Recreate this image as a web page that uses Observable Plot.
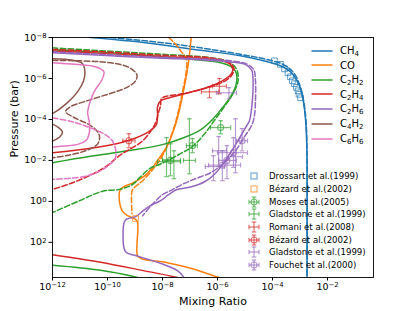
<!DOCTYPE html>
<html><head><meta charset="utf-8">
<script src="https://cdn.jsdelivr.net/npm/d3@7"></script>
<script src="https://cdn.jsdelivr.net/npm/@observablehq/plot@0.6"></script>
<style>
body{margin:0;background:#fff;}
#wrap{position:relative;width:415px;height:311px;font-family:"DejaVu Sans",sans-serif;color:#000;}
.row{position:absolute;display:flex;align-items:center;white-space:nowrap;}
.row svg{display:block;flex:none;}
.l1{font-size:10px;height:14px;}
.l2{font-size:8.6px;height:12px;}
sub{font-size:70%;vertical-align:-0.25em;line-height:0;}
</style></head><body><div id="wrap"></div><script>
// ---------- data: [mixing ratio, pressure (bar)] ----------
const ch4Solid = [[2.4e-11,1e-8],[6.9e-10,1.5e-8],[1e-8,2.3e-8],[2.4e-7,4.2e-8],[6.9e-6,7.8e-8],[5.6e-5,1.45e-7],[1.95e-4,2.4e-7],[4.5e-4,4.7e-7],[7.4e-4,1.15e-6],[1.05e-3,3.2e-6],[1.35e-3,1.55e-5],[1.6e-3,1.15e-4],[1.78e-3,3.4e-3],[1.8e-3,0.1],[1.8e-3,1e4]];
const ch4Dash = [[1.3e-10,1e-8],[1e-8,1.8e-8],[5.6e-7,3.8e-8],[5.6e-5,1.15e-7],[2.5e-4,2.1e-7],[5.8e-4,5.2e-7],[9.6e-4,2.0e-6],[1.35e-3,1.2e-5],[1.65e-3,1.15e-4],[1.8e-3,3.4e-3],[1.8e-3,1e4]];
const coSolid = [[1.1e-7,1e-8],[9.5e-8,7.8e-8],[7.4e-8,7.4e-7],[5.8e-8,4.0e-6],[4.5e-8,2.1e-5],[2.9e-8,2.0e-4],[1.5e-8,1.9e-3],[6.6e-9,1.0e-2],[2.8e-9,4.4e-2],[9.5e-10,0.115],[3.5e-10,0.21],[2.8e-10,0.30],[2.8e-10,1.3],[3.4e-10,2.8],[5.4e-10,5.0],[9.5e-10,7.0],[1.23e-9,9.8],[1.23e-9,450],[1.74e-9,630],[1.5e-8,980],[1.35e-7,2000],[1.1e-6,5200],[4.9e-6,1e4]];
const coDash = [[1.66e-8,1e-8],[2.9e-8,2.0e-8],[4.9e-8,5.0e-8],[7.4e-8,1.1e-7],[6.9e-8,7.4e-7],[5.4e-8,4.0e-6],[4.2e-8,2.1e-5],[2.75e-8,2.0e-4],[1.4e-8,2.4e-3],[8.5e-9,8.3e-3],[4.4e-9,2.8e-2],[1.9e-9,9.8e-2],[9.5e-10,0.21],[7.8e-10,0.30],[7.8e-10,4.0]];
const c2h2Solid = [[1e-12,4.0e-8],[1.3e-10,5.6e-8],[1e-8,8.7e-8],[1.05e-7,1.15e-7],[1.3e-6,1.7e-7],[3.2e-6,2.7e-7],[4.9e-6,5.9e-7],[4.7e-6,2.0e-6],[3.0e-6,7.8e-6],[1.5e-6,2.7e-5],[6.6e-7,1.0e-4],[2.4e-7,3.2e-4],[5.8e-8,7.8e-4],[1e-8,1.7e-3],[5.4e-10,3.4e-3],[2.4e-11,6.3e-3],[1e-12,1.3e-2]];
const c2h2Deep = [[1e-12,1300],[5.6e-11,2300],[1.23e-9,5200],[3.6e-9,8300]];
const c2h2Dash = [[1e-12,3.2e-8],[1.3e-10,4.7e-8],[1e-8,6.6e-8],[5.6e-7,9.8e-8],[2.5e-6,1.55e-7],[4.9e-6,3.4e-7],[5.6e-6,1.3e-6],[3.8e-6,5.0e-6],[1.66e-6,2.7e-5],[7.1e-7,1.3e-4],[3.4e-7,5.0e-4],[1.23e-7,2.1e-3],[4.5e-8,4.7e-3],[9.1e-9,1.45e-2],[3.6e-9,2.4e-2],[1.58e-9,6.3e-2],[8.1e-10,0.15],[2.75e-10,0.26],[6.6e-11,0.32],[9.6e-12,0.93],[1e-12,3.5]];
const c2h4Solid = [[1e-12,4.5e-8],[1.3e-10,6.3e-8],[1e-8,8.7e-8],[6.6e-7,1.15e-7],[2.75e-6,1.9e-7],[3.6e-6,3.4e-7],[3.0e-6,6.6e-7],[1.5e-6,1.3e-6],[4.4e-7,2.7e-6],[5.4e-8,5.9e-6],[1.5e-8,9.3e-6],[8.5e-9,1.23e-5],[6.6e-9,2.4e-5],[6.6e-9,6.6e-5],[6.0e-9,1.8e-4],[3.6e-9,3.5e-4],[1.12e-9,7.8e-4],[2.75e-10,1.4e-3],[1.58e-11,2.8e-3],[1e-12,4.2e-3]];
const c2h4Deep = [[1e-12,400],[5.6e-11,930],[2.0e-9,2400],[3.5e-8,5200],[1.7e-7,1e4]];
const c2h4Dash = [[1e-12,3.8e-8],[1.3e-10,5.2e-8],[1e-8,7.4e-8],[6.6e-7,1.02e-7],[2.75e-6,1.7e-7],[4.0e-6,3.4e-7],[3.2e-6,7.4e-7],[1.66e-6,1.45e-6],[4.4e-7,2.8e-6],[5.4e-8,5.6e-6],[1.4e-8,7.4e-6],[9.1e-9,9.8e-6],[8.5e-9,2.1e-5],[7.1e-9,4.7e-5],[5.6e-9,1.45e-4],[3.6e-9,4.0e-4],[1.74e-9,1.23e-3],[6.9e-10,2.7e-3],[2.5e-10,6.3e-3],[1.1e-10,1.6e-2],[3.6e-11,4.0e-2],[5.4e-12,0.123],[1e-12,0.26]];
const c2h6Solid = [[1e-12,5.6e-8],[1.3e-10,7.8e-8],[1e-8,1.02e-7],[2.4e-7,1.23e-7],[3.0e-6,1.55e-7],[1.05e-5,2.1e-7],[1.74e-5,3.8e-7],[1.95e-5,1.02e-6],[1.95e-5,4.0e-6],[1.78e-5,2.1e-5],[1.45e-5,1.15e-4],[1.05e-5,2.5e-4],[5.8e-6,9.8e-4],[3.0e-6,4.2e-3],[1.5e-6,1.6e-2],[7.8e-7,4.7e-2],[3.4e-7,0.11],[1.05e-7,0.2],[3.2e-8,0.27],[1.66e-8,0.47],[8.5e-9,0.93],[3.6e-9,1.6],[2.0e-9,2.8],[1.05e-9,5.6],[4.9e-10,7.4],[4.0e-10,11],[4.0e-10,200],[4.9e-10,320],[1.12e-9,450],[1e-8,1150],[3.5e-8,2400],[6.0e-8,5200],[7.4e-8,1e4]];
const c2h6Dash = [[1e-12,5.0e-8],[1e-8,9.3e-8],[3.0e-6,1.38e-7],[1.23e-5,2.05e-7],[2.1e-5,3.8e-7],[2.4e-5,1.3e-6],[2.4e-5,1.23e-5],[2.2e-5,6.6e-5],[1.74e-5,2.0e-4],[9.6e-6,6.9e-4],[4.5e-6,3.4e-3],[1.95e-6,1.15e-2],[5.6e-7,4.0e-2],[1.58e-7,7.8e-2],[5.4e-8,0.145],[1.95e-8,0.30],[1e-8,0.47],[3.6e-9,1.8],[1.9e-9,5.0]];
const c4h2Solid = [[1e-12,1.1e-7],[5.4e-12,1.3e-7],[1.23e-11,1.9e-7],[1.5e-11,4.2e-7],[1.35e-11,1.3e-6],[8.1e-12,4.5e-6],[3.2e-12,1.7e-5],[1e-12,5.2e-5],[3e-13,9.5e-5],[1e-12,1.7e-4],[1.66e-12,2.5e-4],[2.3e-12,4.2e-4],[1.78e-12,7.4e-4],[1e-12,1.15e-3],[3e-13,2e-3]];
const c4h2Dash = [[1e-12,1.3e-7],[1.05e-11,1.38e-7],[6.6e-11,1.55e-7],[3.0e-10,2.1e-7],[6.9e-10,3.2e-7],[1.17e-9,6.6e-7],[1.05e-9,1.3e-6],[4.9e-10,2.8e-6],[1.5e-10,5.0e-6],[1.58e-11,1.3e-5],[4.5e-12,2.4e-5],[3.0e-12,4.2e-5],[5.8e-12,7.8e-5],[2.0e-11,1.7e-4],[3.6e-11,3.0e-4],[5.1e-11,6.3e-4],[4.4e-11,1.55e-3],[1.58e-11,3.4e-3],[3.8e-12,5.6e-3],[1e-12,7.4e-3]];
const c6h6Solid = [[1e-12,1.7e-7],[6.9e-12,2.05e-7],[3.6e-11,2.7e-7],[7.4e-11,4.7e-7],[6.0e-11,1.3e-6],[3.6e-11,3.5e-6],[2.4e-11,1.23e-5],[1.9e-11,4.7e-5],[2.2e-11,1.45e-4],[2.2e-11,4.0e-4],[1.74e-11,9.8e-4],[8.9e-12,1.6e-3],[2.3e-12,2.0e-3],[1e-12,2.3e-3]];
const c6h6Dash = [[1e-12,8.3e-5],[4.5e-12,1.23e-4],[1.58e-11,2.1e-4],[8.5e-11,5.6e-4],[1.5e-10,1.1e-3],[1.95e-10,2.7e-3],[1.95e-10,7.4e-3],[1.3e-10,1.45e-2],[5.6e-11,3.2e-2],[1.58e-11,5.9e-2],[4.5e-12,7.4e-2],[1e-12,8.5e-2]];

// observations
const drossartCH4 = [[1.17e-4,1.38e-7],[1.95e-4,2.05e-7],[2.75e-4,3.4e-7],[3.65e-4,5.3e-7],[4.5e-4,8.3e-7],[5.3e-4,1.3e-6],[6.3e-4,1.8e-6],[7.4e-4,2.7e-6],[8.5e-4,4.0e-6],[9.2e-4,5.9e-6],[1.05e-3,8.7e-6]];
const bezardCO = [[1.05e-9,6.9]];
// [x, p, xlo, xhi, plo, phi]
const mosesC2H2 = [[1.3e-6,2.5e-4,5.6e-7,3.0e-6,1.15e-4,5.0e-4],[1.23e-7,1.9e-3,7.4e-8,1.85e-7,8.7e-4,4.2e-3],[1.95e-8,1.0e-2,1e-8,4.5e-8,1.55e-3,5.6e-2]];
const gladstoneC2H2 = [[9.5e-8,1.0e-2,5.8e-8,1.58e-7,9.3e-5,4.5e-2],[2.6e-8,1.15e-2,6.6e-9,4.5e-8,3.4e-3,7.8e-2],[1.4e-8,9.3e-3,1.0e-8,2.0e-8,7.8e-4,6.2e-2]];
const romaniC2H4 = [[5.1e-7,4.5e-6,2.6e-7,1.1e-6,2.5e-6,8.7e-6],[1.17e-6,2.4e-6,6.6e-7,2.1e-6,1.0e-6,5.6e-6]];
const bezardC2H4 = [[6.0e-10,1.1e-3,3.6e-10,1e-9,5.0e-4,2.4e-3]];
const gladstoneC2H6 = [[2.6e-6,5.0e-6,9.1e-7,4.9e-6,2.8e-6,9.8e-6],[1.1e-6,3.4e-3,6.6e-7,2.1e-6,6.9e-4,2.0e-2],[4.5e-6,6.6e-3,2.5e-6,8.1e-6,9.3e-5,4.0e-2],[7.1e-7,2.0e-2,3.6e-7,1.78e-6,5.9e-3,9.8e-2]];
const fouchetC2H6 = [[7.8e-6,1.1e-3,4.9e-6,1.23e-5,2.8e-4,3.4e-3],[3.8e-6,4.2e-3,1e-6,1.23e-5,7.8e-4,2.2e-2],[2.2e-6,1.0e-2,1.1e-6,4.9e-6,1.9e-3,7.8e-2],[1.5e-6,1.7e-2,4.7e-7,6.9e-6,3.4e-3,9.8e-2]];

const xTicks = [1e-12,1e-10,1e-8,1e-6,1e-4,1e-2];
const yTicks = [1e-8,1e-6,1e-4,1e-2,1,1e2];
const species = ["CH<sub>4</sub>","CO","C<sub>2</sub>H<sub>2</sub>","C<sub>2</sub>H<sub>4</sub>","C<sub>2</sub>H<sub>6</sub>","C<sub>4</sub>H<sub>2</sub>","C<sub>6</sub>H<sub>6</sub>"];
const colors = ["#1f77b4","#ff7f0e","#2ca02c","#d62728","#9467bd","#8c564b","#e377c2"];
const obsLabels = ["Drossart et al.(1999)","Bézard et al.(2002)","Moses et al.(2005)","Gladstone et al.(1999)","Romani et al.(2008)","Bézard et al.(2002)","Gladstone et al.(1999)","Fouchet et al.(2000)"];

// ---------- helpers ----------
const fmt = v => "10^" + Math.round(Math.log10(v));
const hcap = {draw(ctx, size){const r = Math.sqrt(size/Math.PI); ctx.moveTo(-r,0); ctx.lineTo(r,0);}};
const vcap = {draw(ctx, size){const r = Math.sqrt(size/Math.PI); ctx.moveTo(0,-r); ctx.lineTo(0,r);}};
const line = (arr, color, dashed) => Plot.line(arr, {x: d => d[0], y: d => d[1], stroke: color, strokeWidth: 1.5,
  strokeDasharray: dashed ? "5.5,2.4" : null, curve: "catmull-rom", clip: true});
function errMarks(arr, color, circle) {
  const rows = arr.map(([x,p,xlo,xhi,plo,phi]) => ({x,p,xlo,xhi,plo,phi}));
  const o = {stroke: color, strokeOpacity: 0.65, strokeWidth: 1.2, clip: true};
  const m = [
    Plot.ruleX(rows, {x: "x", y1: "plo", y2: "phi", ...o}),
    Plot.ruleY(rows, {y: "p", x1: "xlo", x2: "xhi", ...o}),
    Plot.dot(rows, {x: "x", y: "plo", symbol: hcap, r: 2.3, fill: "none", ...o}),
    Plot.dot(rows, {x: "x", y: "phi", symbol: hcap, r: 2.3, fill: "none", ...o}),
    Plot.dot(rows, {x: "xlo", y: "p", symbol: vcap, r: 2.3, fill: "none", ...o}),
    Plot.dot(rows, {x: "xhi", y: "p", symbol: vcap, r: 2.3, fill: "none", ...o})
  ];
  if (circle) m.push(Plot.dot(rows, {x: "x", y: "p", r: 3, fill: "none", ...o}));
  return m;
}

const chart = Plot.plot({
  width: 415, height: 311,
  marginLeft: 52, marginRight: 42, marginTop: 37, marginBottom: 34,
  style: {fontFamily: "DejaVu Sans, sans-serif", fontSize: "9.5px", color: "#000", background: "#fff"},
  x: {type: "log", domain: [1e-12, 0.47], ticks: xTicks, tickFormat: fmt, tickSize: 3.5, tickPadding: 2.5, label: null},
  y: {type: "log", domain: [1e-8, 5.2e3], reverse: true, ticks: yTicks, tickFormat: fmt, tickSize: 3.5, tickPadding: 2.5, label: null},
  marks: [
    line(ch4Solid, colors[0]), line(ch4Dash, colors[0], true),
    line(coSolid, colors[1]), line(coDash, colors[1], true),
    line(c2h2Solid, colors[2]), line(c2h2Deep, colors[2]), line(c2h2Dash, colors[2], true),
    line(c2h4Solid, colors[3]), line(c2h4Deep, colors[3]), line(c2h4Dash, colors[3], true),
    line(c2h6Solid, colors[4]), line(c2h6Dash, colors[4], true),
    line(c4h2Solid, colors[5]), line(c4h2Dash, colors[5], true),
    line(c6h6Solid, colors[6]), line(c6h6Dash, colors[6], true),
    Plot.dot(drossartCH4, {x: d => d[0], y: d => d[1], symbol: "square", r: 3.2, fill: "none", stroke: colors[0], strokeOpacity: 0.7, strokeWidth: 1}),
    Plot.dot(bezardCO, {x: d => d[0], y: d => d[1], symbol: "square", r: 3.2, fill: "none", stroke: colors[1], strokeOpacity: 0.7, strokeWidth: 1}),
    ...errMarks(mosesC2H2, colors[2], true),
    ...errMarks(gladstoneC2H2, colors[2], false),
    ...errMarks(romaniC2H4, colors[3], false),
    ...errMarks(bezardC2H4, colors[3], true),
    ...errMarks(gladstoneC2H6, colors[4], false),
    ...errMarks(fouchetC2H6, colors[4], true),
    Plot.text(["Mixing Ratio"], {text: d => d, frameAnchor: "bottom", dy: 24, fontSize: 11, lineAnchor: "middle"}),
    Plot.text(["Pressure (bar)"], {text: d => d, frameAnchor: "left", dx: -38, rotate: -90, fontSize: 11, lineAnchor: "middle"}),
    Plot.frame({stroke: "#000", strokeWidth: 0.9})
  ]
});
// typeset tick labels as 10 with a raised, smaller exponent (matplotlib style)
d3.select(chart).selectAll("text").each(function() {
  const t = this.textContent;
  const m = /^10\^(-?\d+)$/.exec(t);
  if (!m) return;
  const el = d3.select(this);
  el.text(null);
  el.append("tspan").text("10");
  el.append("tspan").attr("dy", "-0.42em").attr("font-size", "0.72em").text(m[1].replace("-", "\u2212"));
});
const wrap = document.getElementById("wrap");
wrap.appendChild(chart);

// ---------- legends ----------
const rows1 = [50.5, 65, 79.7, 94.3, 108.8, 123.6, 138.5];
species.forEach((s, i) => {
  const d = document.createElement("div");
  d.className = "row l1";
  d.style.left = "311px"; d.style.top = (rows1[i] - 7) + "px";
  d.innerHTML = `<svg width="22" height="14"><line x1="0.5" x2="21.5" y1="7" y2="7" stroke="${colors[i]}" stroke-width="1.5"/></svg><span style="margin-left:7px">${s}</span>`;
  wrap.appendChild(d);
});
const rows2 = [176, 189, 201.8, 214.3, 227.2, 239.7, 252.2, 264.8];
const obsStyle = [["sq",colors[0]],["sq",colors[1]],["ec",colors[2]],["e",colors[2]],["e",colors[3]],["ec",colors[3]],["e",colors[4]],["ec",colors[4]]];
obsLabels.forEach((s, i) => {
  const [kind, c] = obsStyle[i];
  let g;
  if (kind === "sq") g = `<rect x="4" y="3" width="6" height="6" fill="none" stroke="${c}" stroke-opacity="0.75" stroke-width="1"/>`;
  else g = `<g stroke="${c}" stroke-opacity="0.65" stroke-width="1.2" fill="none">
    <line x1="2" x2="12" y1="6" y2="6"/><line x1="7" x2="7" y1="1" y2="11"/>
    <line x1="2" x2="2" y1="3.7" y2="8.3"/><line x1="12" x2="12" y1="3.7" y2="8.3"/>
    <line x1="4.7" x2="9.3" y1="1" y2="1"/><line x1="4.7" x2="9.3" y1="11" y2="11"/>
    ${kind === "ec" ? '<circle cx="7" cy="6" r="3"/>' : ''}</g>`;
  const d = document.createElement("div");
  d.className = "row l2";
  d.style.left = "247px"; d.style.top = (rows2[i] - 6) + "px";
  d.innerHTML = `<svg width="14" height="12">${g}</svg><span style="margin-left:8px">${s}</span>`;
  wrap.appendChild(d);
});
</script></body></html>
